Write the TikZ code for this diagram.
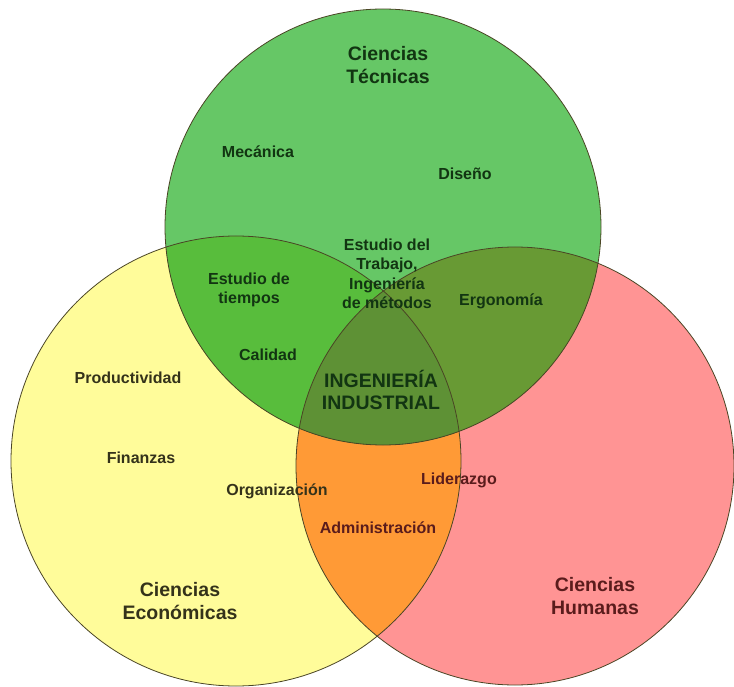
\documentclass[tikz,border=0pt]{standalone}
\usepackage{fontspec}
\setmainfont{Liberation Sans}
\definecolor{greenc}{HTML}{66C766}
\definecolor{yellowc}{HTML}{FFFC9A}
\definecolor{redc}{HTML}{FF9494}
\definecolor{gyc}{HTML}{58BD3C}
\definecolor{grc}{HTML}{689A34}
\definecolor{yrc}{HTML}{FF9A36}
\definecolor{gyrc}{HTML}{5E9135}
\definecolor{edgec}{HTML}{4A4525}
\definecolor{gtext}{HTML}{123512}
\definecolor{ytext}{HTML}{34321A}
\definecolor{rtext}{HTML}{5A1C1C}
\tikzset{
  lbl/.style={font=\bfseries\fontsize{16}{19.5}\selectfont, align=center, inner sep=0pt},
  big/.style={font=\bfseries\fontsize{19.5}{22.5}\selectfont, align=center, inner sep=0pt},
  ring/.style={draw=edgec, line width=0.8pt}
}
\begin{document}
\begin{tikzpicture}[x=1pt,y=-1pt]
\useasboundingbox (0,0) rectangle (734,687);
\fill[white] (0,0) rectangle (734,687);
\coordinate (G) at (383,227);
\coordinate (Y) at (236,461);
\coordinate (R) at (515,466);
\def\rG{218}\def\rY{225}\def\rR{219}
% base fills
\fill[yellowc] (Y) circle[radius=\rY];
\fill[redc] (R) circle[radius=\rR];
\fill[greenc] (G) circle[radius=\rG];
% pairwise
\begin{scope}\clip (Y) circle[radius=\rY]; \fill[yrc] (R) circle[radius=\rR];\end{scope}
\begin{scope}\clip (G) circle[radius=\rG]; \fill[gyc] (Y) circle[radius=\rY];\end{scope}
\begin{scope}\clip (G) circle[radius=\rG]; \fill[grc] (R) circle[radius=\rR];\end{scope}
\begin{scope}\clip (G) circle[radius=\rG]; \clip (Y) circle[radius=\rY]; \fill[gyrc] (R) circle[radius=\rR];\end{scope}
% outlines
\draw[ring] (Y) circle[radius=\rY];
\draw[ring] (R) circle[radius=\rR];
\draw[ring] (G) circle[radius=\rG];
% labels
\node[big, text=gtext] (tec) at (388,65) {Ciencias\\Técnicas};
\node[lbl, text=gtext] (mec) at (258,152) {Mecánica};
\node[lbl, text=gtext] (dis) at (465,174) {Diseño};
\node[lbl, text=gtext] (est) at (387,274) {Estudio del\\Trabajo,\\Ingeniería\\de métodos};
\node[lbl, text=gtext] (tie) at (249,290) {Estudio de\\tiempos};
\node[lbl, text=gtext] (cal) at (268,355) {Calidad};
\node[lbl, text=gtext] (erg) at (501,301) {Ergonomía};
\node[big, text=gtext] (ind) at (381,390) {INGENIERÍA\\INDUSTRIAL};
\node[lbl, text=ytext] (pro) at (128,378) {Productividad};
\node[lbl, text=ytext] (fin) at (141,458) {Finanzas};
\node[lbl, text=ytext] (org) at (277,491) {Organización};
\node[lbl, text=rtext] (lid) at (459,480) {Liderazgo};
\node[lbl, text=rtext] (adm) at (378,528) {Administración};
\node[big, text=ytext] (eco) at (180,601) {Ciencias\\Económicas};
\node[big, text=rtext] (hum) at (595,596) {Ciencias\\Humanas};
\end{tikzpicture}
\end{document}
